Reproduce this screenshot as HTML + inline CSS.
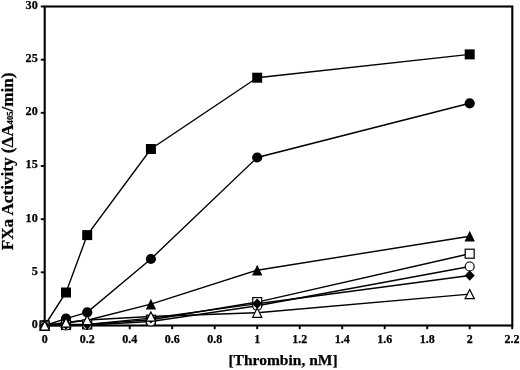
<!DOCTYPE html>
<html><head><meta charset="utf-8"><title>FXa Activity vs Thrombin</title>
<style>
html,body{margin:0;padding:0;background:#fff;}
body{width:520px;height:370px;overflow:hidden;}
svg{display:block;font-family:"Liberation Serif","DejaVu Serif",serif;font-weight:bold;fill:#000;}
text{stroke:#000;stroke-width:0.25px;}
</style></head><body>
<svg width="520" height="370" viewBox="0 0 520 370">
<rect width="520" height="370" fill="#fff"/>

<polyline points="44.7,325.5 66.0,292.5 87.2,235.1 150.9,149.0 257.2,77.7 469.7,54.4" fill="none" stroke="#000" stroke-width="1.4"/>
<polyline points="44.7,325.5 66.0,318.6 87.2,312.3 150.9,259.0 257.2,157.5 469.7,103.3" fill="none" stroke="#000" stroke-width="1.4"/>
<polyline points="44.7,325.5 66.0,322.8 87.2,320.2 150.9,304.2 257.2,270.2 469.7,236.2" fill="none" stroke="#000" stroke-width="1.4"/>
<polyline points="44.7,325.5 66.0,325.0 87.2,324.4 150.9,319.7 257.2,302.1 469.7,253.7" fill="none" stroke="#000" stroke-width="1.4"/>
<polyline points="44.7,325.5 66.0,325.5 87.2,325.0 150.9,321.5 257.2,305.8 469.7,266.5" fill="none" stroke="#000" stroke-width="1.4"/>
<polyline points="44.7,325.5 66.0,324.4 87.2,324.4 150.9,318.1 257.2,303.7 469.7,275.5" fill="none" stroke="#000" stroke-width="1.4"/>
<polyline points="44.7,325.5 66.0,322.5 87.2,320.0 150.9,316.5 257.2,312.7 469.7,294.1" fill="none" stroke="#000" stroke-width="1.4"/>
<rect x="44.7" y="6.5" width="467.6" height="319.0" fill="none" stroke="#000" stroke-width="2.1"/>
<line x1="44.7" y1="325.5" x2="44.7" y2="329.2" stroke="#000" stroke-width="1.9"/>
<line x1="87.2" y1="325.5" x2="87.2" y2="329.2" stroke="#000" stroke-width="1.9"/>
<line x1="129.7" y1="325.5" x2="129.7" y2="329.2" stroke="#000" stroke-width="1.9"/>
<line x1="172.2" y1="325.5" x2="172.2" y2="329.2" stroke="#000" stroke-width="1.9"/>
<line x1="214.7" y1="325.5" x2="214.7" y2="329.2" stroke="#000" stroke-width="1.9"/>
<line x1="257.2" y1="325.5" x2="257.2" y2="329.2" stroke="#000" stroke-width="1.9"/>
<line x1="299.7" y1="325.5" x2="299.7" y2="329.2" stroke="#000" stroke-width="1.9"/>
<line x1="342.2" y1="325.5" x2="342.2" y2="329.2" stroke="#000" stroke-width="1.9"/>
<line x1="384.7" y1="325.5" x2="384.7" y2="329.2" stroke="#000" stroke-width="1.9"/>
<line x1="427.2" y1="325.5" x2="427.2" y2="329.2" stroke="#000" stroke-width="1.9"/>
<line x1="469.7" y1="325.5" x2="469.7" y2="329.2" stroke="#000" stroke-width="1.9"/>
<line x1="512.2" y1="325.5" x2="512.2" y2="329.2" stroke="#000" stroke-width="1.9"/>
<line x1="44.7" y1="325.5" x2="40.800000000000004" y2="325.5" stroke="#000" stroke-width="1.9"/>
<line x1="44.7" y1="272.3" x2="40.800000000000004" y2="272.3" stroke="#000" stroke-width="1.9"/>
<line x1="44.7" y1="219.2" x2="40.800000000000004" y2="219.2" stroke="#000" stroke-width="1.9"/>
<line x1="44.7" y1="166.0" x2="40.800000000000004" y2="166.0" stroke="#000" stroke-width="1.9"/>
<line x1="44.7" y1="112.8" x2="40.800000000000004" y2="112.8" stroke="#000" stroke-width="1.9"/>
<line x1="44.7" y1="59.7" x2="40.800000000000004" y2="59.7" stroke="#000" stroke-width="1.9"/>
<line x1="44.7" y1="6.5" x2="40.800000000000004" y2="6.5" stroke="#000" stroke-width="1.9"/>
<rect x="39.7" y="320.5" width="10.0" height="10.0" fill="#000"/>
<rect x="61.0" y="287.5" width="10.0" height="10.0" fill="#000"/>
<rect x="82.2" y="230.1" width="10.0" height="10.0" fill="#000"/>
<rect x="145.9" y="144.0" width="10.0" height="10.0" fill="#000"/>
<rect x="252.2" y="72.7" width="10.0" height="10.0" fill="#000"/>
<rect x="464.7" y="49.4" width="10.0" height="10.0" fill="#000"/>
<circle cx="44.7" cy="325.5" r="5.1" fill="#000"/>
<circle cx="66.0" cy="318.6" r="5.1" fill="#000"/>
<circle cx="87.2" cy="312.3" r="5.1" fill="#000"/>
<circle cx="150.9" cy="259.0" r="5.1" fill="#000"/>
<circle cx="257.2" cy="157.5" r="5.1" fill="#000"/>
<circle cx="469.7" cy="103.3" r="5.1" fill="#000"/>
<polygon points="44.7,320.1 49.9,330.7 39.5,330.7" fill="#000"/>
<polygon points="66.0,317.4 71.2,328.0 60.8,328.0" fill="#000"/>
<polygon points="87.2,314.8 92.4,325.4 82.0,325.4" fill="#000"/>
<polygon points="150.9,298.8 156.1,309.4 145.8,309.4" fill="#000"/>
<polygon points="257.2,264.8 262.4,275.4 252.0,275.4" fill="#000"/>
<polygon points="469.7,230.8 474.9,241.4 464.5,241.4" fill="#000"/>
<rect x="40.2" y="321.0" width="9" height="9" fill="#fff" stroke="#000" stroke-width="1.2"/>
<rect x="61.5" y="320.5" width="9" height="9" fill="#fff" stroke="#000" stroke-width="1.2"/>
<rect x="82.7" y="319.9" width="9" height="9" fill="#fff" stroke="#000" stroke-width="1.2"/>
<rect x="146.4" y="315.2" width="9" height="9" fill="#fff" stroke="#000" stroke-width="1.2"/>
<rect x="252.7" y="297.6" width="9" height="9" fill="#fff" stroke="#000" stroke-width="1.2"/>
<rect x="465.2" y="249.2" width="9" height="9" fill="#fff" stroke="#000" stroke-width="1.2"/>
<circle cx="44.7" cy="325.5" r="4.5" fill="#fff" stroke="#000" stroke-width="1.2"/>
<circle cx="66.0" cy="325.5" r="4.5" fill="#fff" stroke="#000" stroke-width="1.2"/>
<circle cx="87.2" cy="325.0" r="4.5" fill="#fff" stroke="#000" stroke-width="1.2"/>
<circle cx="150.9" cy="321.5" r="4.5" fill="#fff" stroke="#000" stroke-width="1.2"/>
<circle cx="257.2" cy="305.8" r="4.5" fill="#fff" stroke="#000" stroke-width="1.2"/>
<circle cx="469.7" cy="266.5" r="4.5" fill="#fff" stroke="#000" stroke-width="1.2"/>
<polygon points="44.7,320.2 49.7,325.5 44.7,330.8 39.7,325.5" fill="#000"/>
<polygon points="66.0,319.1 71.0,324.4 66.0,329.7 61.0,324.4" fill="#000"/>
<polygon points="87.2,319.1 92.2,324.4 87.2,329.7 82.2,324.4" fill="#000"/>
<polygon points="150.9,312.8 155.9,318.1 150.9,323.4 145.9,318.1" fill="#000"/>
<polygon points="257.2,298.4 262.2,303.7 257.2,309.0 252.2,303.7" fill="#000"/>
<polygon points="469.7,270.2 474.7,275.5 469.7,280.8 464.7,275.5" fill="#000"/>
<polygon points="44.7,320.9 49.3,330.1 40.1,330.1" fill="#fff" stroke="#000" stroke-width="1.2"/>
<polygon points="66.0,317.9 70.5,327.1 61.4,327.1" fill="#fff" stroke="#000" stroke-width="1.2"/>
<polygon points="87.2,315.4 91.8,324.6 82.6,324.6" fill="#fff" stroke="#000" stroke-width="1.2"/>
<polygon points="150.9,311.9 155.5,321.1 146.3,321.1" fill="#fff" stroke="#000" stroke-width="1.2"/>
<polygon points="257.2,308.1 261.8,317.3 252.6,317.3" fill="#fff" stroke="#000" stroke-width="1.2"/>
<polygon points="469.7,289.5 474.3,298.7 465.1,298.7" fill="#fff" stroke="#000" stroke-width="1.2"/>
<text x="44.7" y="343.2" font-size="12" text-anchor="middle">0</text>
<text x="87.2" y="343.2" font-size="12" text-anchor="middle">0.2</text>
<text x="129.7" y="343.2" font-size="12" text-anchor="middle">0.4</text>
<text x="172.2" y="343.2" font-size="12" text-anchor="middle">0.6</text>
<text x="214.7" y="343.2" font-size="12" text-anchor="middle">0.8</text>
<text x="257.2" y="343.2" font-size="12" text-anchor="middle">1</text>
<text x="299.7" y="343.2" font-size="12" text-anchor="middle">1.2</text>
<text x="342.2" y="343.2" font-size="12" text-anchor="middle">1.4</text>
<text x="384.7" y="343.2" font-size="12" text-anchor="middle">1.6</text>
<text x="427.2" y="343.2" font-size="12" text-anchor="middle">1.8</text>
<text x="469.7" y="343.2" font-size="12" text-anchor="middle">2</text>
<text x="512.0" y="343.2" font-size="12" text-anchor="middle">2.2</text>
<text x="37.8" y="327.9" font-size="12.2" text-anchor="end">0</text>
<text x="37.8" y="274.7" font-size="12.2" text-anchor="end">5</text>
<text x="37.8" y="221.6" font-size="12.2" text-anchor="end">10</text>
<text x="37.8" y="168.4" font-size="12.2" text-anchor="end">15</text>
<text x="37.8" y="115.2" font-size="12.2" text-anchor="end">20</text>
<text x="37.8" y="62.1" font-size="12.2" text-anchor="end">25</text>
<text x="37.8" y="8.9" font-size="12.2" text-anchor="end">30</text>
<text x="283" y="365" font-size="15.5" text-anchor="middle">[Thrombin, nM]</text>
<text transform="translate(13.3,161.4) rotate(-90) scale(1.047,1)" font-size="16.4" text-anchor="middle">FXa Activity (ΔA<tspan font-size="8.2" dy="-0.6">405</tspan><tspan dy="0.6">/min)</tspan></text>
</svg></body></html>
